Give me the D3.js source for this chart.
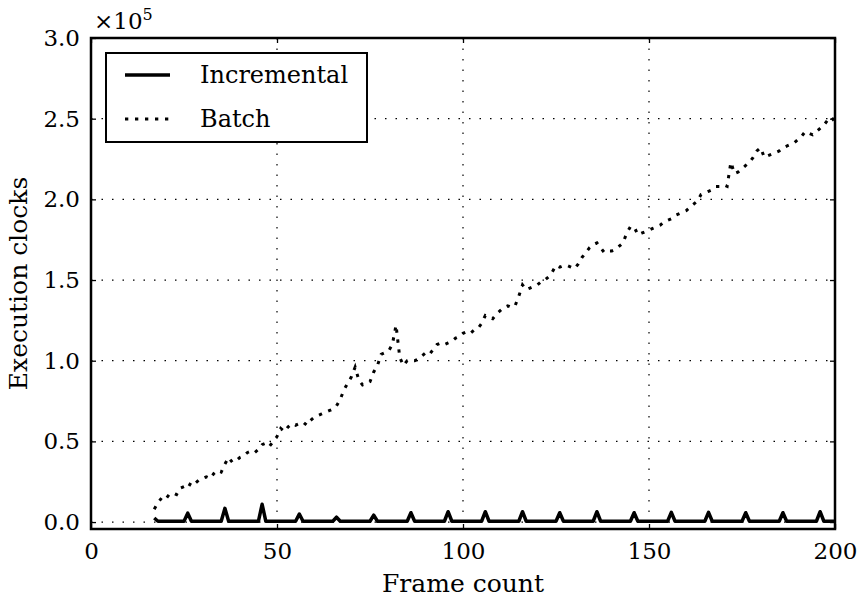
<!DOCTYPE html>
<html>
<head>
<meta charset="utf-8">
<script src="https://cdn.jsdelivr.net/npm/d3@7"></script>
<style>
  body { margin: 0; background: #fff; }
  text { font-family: "DejaVu Serif", serif; fill: #000; }
</style>
</head>
<body>
<div id="wrapper"></div>
<script>
// Batch: one value per frame, starting at frame 17 (clocks)
const batchStartFrame = 17;
const batchValues = [
  8000, 12000, 15000, 14000, 17000, 18000, 17000, 21000, 22000, 21000,
  25000, 24000, 26000, 27000, 28000, 27000, 30000, 32000, 31000, 36000,
  40000, 37000, 38000, 40000, 41000, 43000, 44000, 43000, 45000, 48000,
  49000, 47000, 50000, 53000, 58000, 56000, 59000, 61000, 60000, 61000,
  62000, 60000, 63000, 65000, 66000, 67000, 68000, 69000, 70000, 72000,
  76000, 82000, 86000, 90000, 96000, 88000, 85000, 86000, 87000, 93000,
  97000, 104000, 105000, 106000, 110000, 122000, 102000, 97000, 100000, 100000,
  100000, 101000, 103000, 105000, 104000, 107000, 110000, 111000, 110000, 111000,
  112000, 114000, 115000, 117000, 118000, 117000, 119000, 120000, 123000, 128000,
  127000, 126000, 129000, 131000, 133000, 134000, 133000, 134000, 140000, 147000,
  144000, 145000, 146000, 147000, 149000, 150000, 152000, 155000, 159000, 158000,
  159000, 159000, 158000, 157000, 160000, 164000, 167000, 170000, 172000, 173000,
  170000, 167000, 168000, 168000, 169000, 171000, 173000, 179000, 183000, 183000,
  178000, 179000, 180000, 181000, 182000, 183000, 184000, 186000, 187000, 188000,
  190000, 191000, 192000, 193000, 195000, 197000, 199000, 203000, 204000, 205000,
  206000, 208000, 208000, 209000, 208000, 223000, 216000, 217000, 219000, 221000,
  223000, 226000, 230000, 232000, 226000, 227000, 228000, 229000, 230000, 232000,
  233000, 234000, 235000, 237000, 239000, 242000, 241000, 240000, 242000, 244000,
  246000, 249000, 251000, 248000
];

// Incremental: vertices of the line (frame, clocks)
const incFrames = [
  17, 18, 25, 26, 27, 35, 36, 37, 45, 46, 47, 55, 56, 57, 65, 66, 67,
  75, 76, 77, 85, 86, 87, 95, 96, 97, 105, 106, 107, 115, 116, 117,
  125, 126, 127, 135, 136, 137, 145, 146, 147, 155, 156, 157, 165, 166, 167,
  175, 176, 177, 185, 186, 187, 195, 196, 197, 200
];
const incValues = [
  2500, 500, 500, 5500, 500, 500, 8500, 500, 500, 11000, 500, 500, 5000, 500, 500, 3000, 500,
  500, 4300, 500, 500, 5800, 500, 500, 6400, 500, 500, 6400, 500, 500, 6400, 500,
  500, 5800, 500, 500, 6400, 500, 500, 5800, 500, 500, 6000, 500, 500, 6000, 500,
  500, 5800, 500, 500, 5800, 500, 500, 6400, 500, 500
];

const xTicks = [0, 50, 100, 150, 200];
const yTicks = [0, 50000, 100000, 150000, 200000, 250000, 300000];
const legendLabels = ["Incremental", "Batch"];

const batch = batchValues.map((v, i) => ({ frame: batchStartFrame + i, value: v }));
const incremental = incFrames.map((f, i) => ({ frame: f, value: incValues[i] }));

const dimensions = {
  width: 859,
  height: 598,
  margin: { top: 38, right: 24, bottom: 69, left: 91 }
};
dimensions.boundedWidth = dimensions.width - dimensions.margin.left - dimensions.margin.right;
dimensions.boundedHeight = dimensions.height - dimensions.margin.top - dimensions.margin.bottom;

const svg = d3.select("#wrapper")
  .append("svg")
  .attr("width", dimensions.width)
  .attr("height", dimensions.height);

const bounds = svg.append("g")
  .attr("transform", `translate(${dimensions.margin.left},${dimensions.margin.top})`);

const xScale = d3.scaleLinear()
  .domain([0, 200])
  .range([0, dimensions.boundedWidth]);

const yScale = d3.scaleLinear()
  .domain([-4300, 300000])
  .range([dimensions.boundedHeight, 0]);

bounds.append("clipPath")
  .attr("id", "clip")
  .append("rect")
  .attr("width", dimensions.boundedWidth)
  .attr("height", dimensions.boundedHeight);

// grid
const grid = bounds.append("g")
  .attr("stroke", "#000")
  .attr("stroke-width", 1.2)
  .attr("stroke-dasharray", "1.5,9");
grid.selectAll(".gx")
  .data(xTicks)
  .join("line")
  .attr("x1", d => xScale(d))
  .attr("x2", d => xScale(d))
  .attr("y1", 0)
  .attr("y2", dimensions.boundedHeight);
grid.selectAll(".gy")
  .data(yTicks)
  .join("line")
  .attr("x1", 0)
  .attr("x2", dimensions.boundedWidth)
  .attr("y1", d => yScale(d))
  .attr("y2", d => yScale(d));

// lines
const lineGen = d3.line()
  .x(d => xScale(d.frame))
  .y(d => yScale(d.value));

const lines = bounds.append("g").attr("clip-path", "url(#clip)");
lines.append("path")
  .datum(batch)
  .attr("d", lineGen)
  .attr("fill", "none")
  .attr("stroke", "#000")
  .attr("stroke-width", 3)
  .attr("stroke-dasharray", "3.3,6.7");
lines.append("path")
  .datum(incremental)
  .attr("d", lineGen)
  .attr("fill", "none")
  .attr("stroke", "#000")
  .attr("stroke-width", 3.5)
  .attr("stroke-linejoin", "round");

// axes: inward ticks on all four sides
const tickLen = 5;
const xAxisBottom = d3.axisBottom(xScale).tickValues(xTicks).tickSizeInner(-tickLen).tickSizeOuter(0).tickPadding(14);
const xAxisTop = d3.axisTop(xScale).tickValues(xTicks).tickSizeInner(-tickLen).tickSizeOuter(0).tickFormat("");
const yAxisLeft = d3.axisLeft(yScale).tickValues(yTicks).tickSizeInner(-tickLen).tickSizeOuter(0).tickPadding(11)
  .tickFormat(d => (d / 1e5).toFixed(1));
const yAxisRight = d3.axisRight(yScale).tickValues(yTicks).tickSizeInner(-tickLen).tickSizeOuter(0).tickFormat("");

function styleAxis(g) {
  g.select(".domain").remove();
  g.selectAll(".tick line").attr("stroke", "#000").attr("stroke-width", 1.3);
  g.selectAll(".tick text")
    .style("font-family", "'DejaVu Serif', serif")
    .style("font-size", "23px")
    .attr("fill", "#000");
}

bounds.append("g")
  .attr("transform", `translate(0,${dimensions.boundedHeight})`)
  .call(xAxisBottom)
  .call(styleAxis);
bounds.append("g").call(xAxisTop).call(styleAxis);
bounds.append("g").call(yAxisLeft).call(styleAxis);
bounds.append("g")
  .attr("transform", `translate(${dimensions.boundedWidth},0)`)
  .call(yAxisRight)
  .call(styleAxis);

// frame
bounds.append("rect")
  .attr("width", dimensions.boundedWidth)
  .attr("height", dimensions.boundedHeight)
  .attr("fill", "none")
  .attr("stroke", "#000")
  .attr("stroke-width", 2.5);

// offset text
const offset = bounds.append("text")
  .attr("x", 3)
  .attr("y", -9)
  .style("font-size", "23px");
offset.append("tspan").text("×10");
offset.append("tspan")
  .attr("dy", -9)
  .style("font-size", "16px")
  .text("5");

// axis labels
bounds.append("text")
  .attr("x", dimensions.boundedWidth / 2)
  .attr("y", dimensions.boundedHeight + 63)
  .attr("text-anchor", "middle")
  .style("font-size", "25px")
  .text("Frame count");

bounds.append("text")
  .attr("transform", `translate(${-64},${dimensions.boundedHeight / 2}) rotate(-90)`)
  .attr("text-anchor", "middle")
  .style("font-size", "25px")
  .text("Execution clocks");

// legend
const legend = bounds.append("g").attr("transform", "translate(15,15)");
legend.append("rect")
  .attr("width", 261)
  .attr("height", 89)
  .attr("fill", "#fff")
  .attr("stroke", "#000")
  .attr("stroke-width", 2);

const legendStyles = [
  { dash: null, width: 3.3 },
  { dash: "3.3,6.7", width: 3 }
];
const legendItems = legend.selectAll(".item")
  .data(legendLabels)
  .join("g")
  .attr("transform", (d, i) => `translate(0,${22 + i * 44})`);
legendItems.append("line")
  .attr("x1", 19)
  .attr("x2", 64)
  .attr("stroke", "#000")
  .attr("stroke-width", (d, i) => legendStyles[i].width)
  .attr("stroke-dasharray", (d, i) => legendStyles[i].dash);
legendItems.append("text")
  .attr("x", 94)
  .attr("dy", "0.35em")
  .style("font-size", "24px")
  .text(d => d);
</script>
</body>
</html>
